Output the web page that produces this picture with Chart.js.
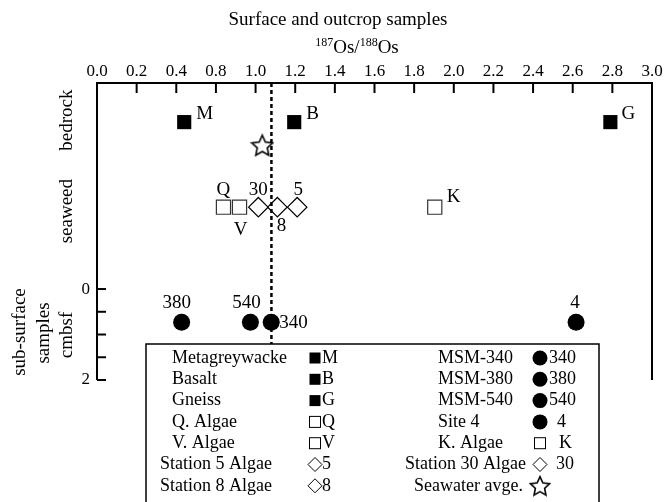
<!DOCTYPE html>
<html>
<head>
<meta charset="utf-8">
<script src="https://cdn.jsdelivr.net/npm/chart.js"></script>
<style>
  body { margin: 0; background: #fff; }
  canvas { display: block; }
</style>
</head>
<body>
<canvas id="grafico" width="665" height="502"></canvas>
<script>
// valores (187Os/188Os)
const bedrockNames = ["M", "B", "G"];
const bedrockOs = [0.64, 1.195, 2.79];
const squareAlgaeNames = ["Q", "V", "K"];
const squareAlgaeOs = [0.838, 0.919, 1.904];
const diamondAlgaeNames = ["30", "8", "5"];
const diamondAlgaeOs = [1.014, 1.11, 1.21];
const coreNames = ["380", "540", "340", "4"];
const coreOs = [0.627, 0.974, 1.079, 2.617];
const coreDepth = [0.73, 0.73, 0.73, 0.73];
const seawaterStarOs = [1.034];
const seawaterLineOs = 1.08;

// linhas das categorias no eixo y (acima de 0 = amostras de superficie)
const rowBedrock = -3.67;
const rowSeawater = -3.16;
const rowSeaweed = -1.80;

const xTickValues = [0.2, 0.4, 0.6, 0.8, 1.0, 1.2, 1.4, 1.6, 1.8, 2.0, 2.2, 2.4, 2.6, 2.8, 3.0];
const xTickLabels = ["0.0", "0.2", "0.4", "0.8", "1.0", "1.2", "1.4", "1.6", "1.8", "2.0", "2.2", "2.4", "2.6", "2.8", "3.0"];
const yTickValues = [0, 0.5, 1, 1.5, 2];
const yTickLabels = ["0", "", "", "", "2"];

const legendLeftText = ["Metagreywacke", "Basalt", "Gneiss", "Q. Algae", "V. Algae", "Station 5 Algae", "Station 8 Algae"];
const legendLeftCode = ["M", "B", "G", "Q", "V", "5", "8"];
const legendRightText = ["MSM-340", "MSM-380", "MSM-540", "Site 4", "K. Algae", "Station 30 Algae", "Seawater avge."];
const legendRightCode = ["340", "380", "540", "4", "K", "30", ""];

const serif = "'Liberation Serif', 'Times New Roman', serif";
Chart.defaults.font.family = serif;

function estrela(size) {
  const c = document.createElement("canvas");
  c.width = size; c.height = size;
  const g = c.getContext("2d");
  g.beginPath();
  for (let i = 0; i < 10; i++) {
    const r = i % 2 ? size * 0.22 : size * 0.46;
    const a = -Math.PI / 2 + i * Math.PI / 5;
    g.lineTo(size / 2 + r * Math.cos(a), size / 2 + 1 + r * Math.sin(a));
  }
  g.closePath();
  g.lineWidth = 1.6;
  g.strokeStyle = "#000";
  g.stroke();
  return c;
}
const starImg = estrela(24);
const starSmall = estrela(22);

function pontos(xs, y) {
  return xs.map((v, i) => ({ x: v, y: Array.isArray(y) ? y[i] : y }));
}

// simbolos da legenda
function simbolo(ctx, tipo, x, y) {
  ctx.save();
  ctx.strokeStyle = "#000";
  ctx.fillStyle = "#000";
  ctx.lineWidth = 1;
  if (tipo === "cheio") {
    ctx.fillRect(x - 5.5, y - 5.5, 11, 11);
  } else if (tipo === "aberto") {
    ctx.strokeRect(x - 5.5, y - 5.5, 11, 11);
  } else if (tipo === "losango") {
    ctx.beginPath();
    ctx.moveTo(x - 7, y); ctx.lineTo(x, y - 7); ctx.lineTo(x + 7, y); ctx.lineTo(x, y + 7);
    ctx.closePath(); ctx.stroke();
  } else if (tipo === "circulo") {
    ctx.beginPath(); ctx.arc(x, y, 7.5, 0, Math.PI * 2); ctx.fill();
  } else if (tipo === "estrela") {
    ctx.drawImage(starSmall, x - 11, y - 11);
  }
  ctx.restore();
}

const labelPlacement = {
  M: [12, -8, "left"], B: [12, -8, "left"], G: [11, -8, "left"], K: [12, -10, "left"],
  Q: [0, -17, "center"], V: [1, 23, "center"], "30": [0, -17, "center"], "5": [1, -17, "center"],
  "8": [4, 19, "center"], "380": [-5, -19, "center"], "540": [-4, -19, "center"],
  "340": [8, 1, "left"], "4": [-1, -19, "center"]
};

const eixos = {
  id: "eixos",
  beforeDatasetsDraw(chart) {
    const { ctx, chartArea: a, scales: { x, y } } = chart;
    ctx.save();
    ctx.strokeStyle = "#000";
    ctx.lineWidth = 2;
    ctx.beginPath();
    ctx.moveTo(a.left, a.bottom); ctx.lineTo(a.left, a.top); ctx.lineTo(a.right, a.top); ctx.lineTo(a.right, a.bottom);
    ctx.stroke();
    ctx.fillStyle = "#000";
    ctx.font = "17px " + serif;
    ctx.textAlign = "center";
    ctx.textBaseline = "middle";
    xTickValues.forEach((v, i) => {
      const px = x.getPixelForValue(v);
      ctx.beginPath(); ctx.moveTo(px, a.top); ctx.lineTo(px, a.top + 10); ctx.stroke();
      ctx.fillText(xTickLabels[i], px, 72);
    });
    ctx.textAlign = "right";
    yTickValues.forEach((v, i) => {
      const py = y.getPixelForValue(v);
      ctx.beginPath(); ctx.moveTo(a.left, py); ctx.lineTo(a.left + 9, py); ctx.stroke();
      if (yTickLabels[i]) ctx.fillText(yTickLabels[i], 90, py);
    });

    // titulos
    ctx.font = "19px " + serif;
    ctx.textAlign = "center";
    ctx.fillText("Surface and outcrop samples", 338, 20);
    const partes = [["187", true], ["Os/", false], ["188", true], ["Os", false]];
    const larg = partes.map(([t, s]) => { ctx.font = (s ? "12px " : "19px ") + serif; return ctx.measureText(t).width; });
    let cx = 357 - larg.reduce((p, q) => p + q, 0) / 2;
    ctx.textAlign = "left";
    partes.forEach(([t, s], i) => {
      ctx.font = (s ? "12px " : "19px ") + serif;
      ctx.fillText(t, cx, s ? 43 : 48);
      cx += larg[i];
    });

    // rotulos das linhas
    const vertical = (t, px, py) => {
      ctx.save(); ctx.translate(px, py); ctx.rotate(-Math.PI / 2);
      ctx.textAlign = "center"; ctx.fillText(t, 0, 0); ctx.restore();
    };
    ctx.font = "19px " + serif;
    vertical("bedrock", 67, y.getPixelForValue(rowBedrock) - 2);
    vertical("seaweed", 67, y.getPixelForValue(rowSeaweed) + 4);
    vertical("sub-surface", 20, 332);
    vertical("samples", 44, 333);
    vertical("cmbsf", 67, 335);
    ctx.restore();
  },
  afterDatasetsDraw(chart) {
    const { ctx } = chart;
    ctx.save();
    ctx.fillStyle = "#000";
    ctx.font = "19px " + serif;
    ctx.textBaseline = "middle";
    chart.data.datasets.forEach((ds, di) => {
      if (!ds.names) return;
      chart.getDatasetMeta(di).data.forEach((pt, i) => {
        const p = labelPlacement[ds.names[i]];
        ctx.textAlign = p[2];
        ctx.fillText(ds.names[i], pt.x + p[0], pt.y + p[1]);
      });
    });

    // legenda
    ctx.fillStyle = "#fff";
    ctx.fillRect(146, 344, 453, 170);
    ctx.strokeStyle = "#000";
    ctx.lineWidth = 1.5;
    ctx.strokeRect(146, 344, 453, 170);
    ctx.fillStyle = "#000";
    ctx.font = "18px " + serif;
    const leftX = [172, 172, 172, 172, 172, 160, 160];
    const leftSym = ["cheio", "cheio", "cheio", "aberto", "aberto", "losango", "losango"];
    const rightX = [438, 438, 438, 438, 438, 405, 414];
    const rightSym = ["circulo", "circulo", "circulo", "circulo", "aberto", "losango", "estrela"];
    const rightCodeX = [549, 549, 549, 557, 559, 556, 0];
    for (let i = 0; i < 7; i++) {
      const ry = 358 + i * 21.3;
      ctx.textAlign = "left";
      ctx.fillText(legendLeftText[i], leftX[i], ry);
      simbolo(ctx, leftSym[i], 315, ry);
      ctx.fillText(legendLeftCode[i], 322, ry);
      ctx.fillText(legendRightText[i], rightX[i], ry);
      simbolo(ctx, rightSym[i], 540, ry);
      if (legendRightCode[i]) ctx.fillText(legendRightCode[i], rightCodeX[i], ry);
    }
    ctx.restore();
  }
};

new Chart(document.getElementById("grafico"), {
  type: "scatter",
  data: {
    datasets: [
      {
        type: "line",
        label: "Seawater line",
        data: [{ x: seawaterLineOs, y: -4.53 }, { x: seawaterLineOs, y: 2 }],
        borderColor: "#000",
        borderWidth: 2.5,
        borderDash: [4, 3],
        pointRadius: 0,
        fill: false
      },
      {
        label: "Bedrock",
        names: bedrockNames,
        data: pontos(bedrockOs, rowBedrock),
        pointStyle: "rect",
        radius: 10,
        backgroundColor: "#000",
        borderColor: "#000",
        borderWidth: 0
      },
      {
        label: "Algae (square)",
        names: squareAlgaeNames,
        data: pontos(squareAlgaeOs, rowSeaweed),
        pointStyle: "rect",
        radius: 10,
        backgroundColor: "#fff",
        borderColor: "#333",
        borderWidth: 1.2
      },
      {
        label: "Algae (diamond)",
        names: diamondAlgaeNames,
        data: pontos(diamondAlgaeOs, rowSeaweed),
        pointStyle: "rectRot",
        radius: 9.7,
        backgroundColor: "rgba(255,255,255,0)",
        borderColor: "#000",
        borderWidth: 1.2
      },
      {
        label: "Cores",
        names: coreNames,
        data: pontos(coreOs, coreDepth),
        pointStyle: "circle",
        radius: 8.5,
        backgroundColor: "#000",
        borderColor: "#000",
        borderWidth: 0
      },
      {
        label: "Seawater avge.",
        data: pontos(seawaterStarOs, rowSeawater),
        pointStyle: starImg,
        radius: 12
      }
    ]
  },
  options: {
    responsive: false,
    animation: false,
    layout: { padding: { left: 97, top: 83, right: 11, bottom: 122 } },
    plugins: { legend: { display: false }, tooltip: { enabled: false } },
    scales: {
      x: { type: "linear", min: 0.2, max: 3.0, display: false },
      y: { type: "linear", min: -4.53, max: 2, reverse: true, display: false }
    }
  },
  plugins: [eixos]
});
</script>
</body>
</html>
